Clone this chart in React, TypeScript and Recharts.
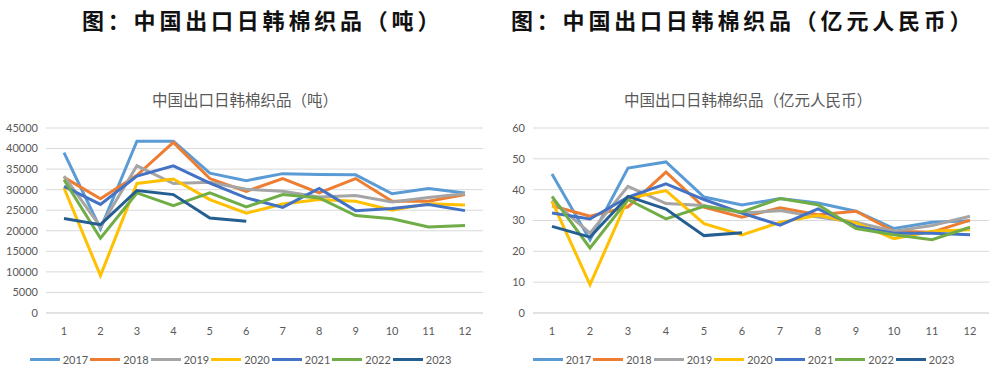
import React from 'react';
import { LineChart, Line, XAxis, YAxis, CartesianGrid, Legend } from 'recharts';

const months = ['1', '2', '3', '4', '5', '6', '7', '8', '9', '10', '11', '12'];
const years = ['2017', '2018', '2019', '2020', '2021', '2022', '2023'];
const colors = ['#5B9BD5', '#ED7D31', '#A5A5A5', '#FFC000', '#4472C4', '#70AD47', '#255E91'];

// 吨
const tons2017 = [39000, 20500, 41800, 41800, 34000, 32200, 33900, 33700, 33600, 29000, 30300, 29200];
const tons2018 = [33000, 27800, 33500, 41500, 32700, 29600, 32700, 29200, 32700, 27200, 27200, 28800];
const tons2019 = [33300, 21000, 35800, 31500, 31800, 30100, 29600, 28200, 28600, 27000, 28100, 29000];
const tons2020 = [30400, 9100, 31500, 32600, 27600, 24300, 26500, 27600, 27200, 25000, 26600, 26300];
const tons2021 = [30800, 26400, 33300, 35800, 31600, 28000, 25700, 30300, 24900, 25400, 26400, 24900];
const tons2022 = [32400, 18200, 29200, 26100, 29200, 25800, 28800, 28000, 23700, 22900, 20900, 21300];
const tons2023 = [23000, 21500, 29800, 28800, 23100, 22300];

// 亿元人民币
const rmb2017 = [45.1, 23.7, 47.0, 49.0, 37.6, 35.0, 37.1, 35.7, 33.0, 27.4, 29.4, 29.9];
const rmb2018 = [34.8, 31.4, 34.4, 45.7, 34.3, 31.1, 34.1, 31.9, 33.0, 26.5, 26.2, 30.1];
const rmb2019 = [36.5, 25.9, 41.1, 35.5, 34.9, 32.4, 33.2, 31.1, 29.4, 26.5, 28.4, 31.4];
const rmb2020 = [36.2, 9.2, 37.1, 39.7, 29.0, 25.3, 29.4, 31.7, 29.2, 24.1, 26.5, 27.0];
const rmb2021 = [32.4, 30.5, 37.6, 41.9, 36.8, 32.4, 28.5, 33.8, 28.1, 25.9, 25.9, 25.4];
const rmb2022 = [37.8, 21.1, 36.8, 30.5, 34.6, 32.8, 37.1, 35.1, 27.4, 25.4, 23.8, 27.8];
const rmb2023 = [28.1, 24.6, 37.8, 33.7, 25.1, 26.0];

const tonTicks = [0, 5000, 10000, 15000, 20000, 25000, 30000, 35000, 40000, 45000];
const rmbTicks = [0, 10, 20, 30, 40, 50, 60];

const buildRows = (series: number[][]) =>
  months.map((m, i) => {
    const row: { [key: string]: string | number | undefined } = { month: m };
    years.forEach((y, k) => {
      row[y] = series[k][i];
    });
    return row;
  });

const tonRows = buildRows([tons2017, tons2018, tons2019, tons2020, tons2021, tons2022, tons2023]);
const rmbRows = buildRows([rmb2017, rmb2018, rmb2019, rmb2020, rmb2021, rmb2022, rmb2023]);

const tickStyle = { fill: '#595959', fontSize: 11, fontFamily: 'Lato, "Noto Sans", sans-serif' };

const LegendRow = () => (
  <div
    style={{
      display: 'flex',
      justifyContent: 'center',
      alignItems: 'center',
      height: 40,
      paddingTop: 12,
      boxSizing: 'border-box',
    }}
  >
    {years.map((y, k) => (
      <div key={y} style={{ display: 'flex', alignItems: 'center', marginRight: 2 }}>
        <span style={{ display: 'inline-block', width: 30, height: 3, background: colors[k], marginRight: 3 }} />
        <span style={{ color: '#595959', fontSize: 11, fontFamily: 'Lato, "Noto Sans", sans-serif' }}>{y}</span>
      </div>
    ))}
  </div>
);

type PanelProps = {
  rows: typeof tonRows;
  ticks: number[];
  title: string;
  width: number;
  yWidth: number;
  pad: number;
};

const Panel: React.FC<PanelProps> = ({ rows, ticks, title, width, yWidth, pad }) => (
  <div style={{ position: 'relative', width, height: 293 }}>
    <div
      style={{
        position: 'absolute',
        top: 8,
        left: 0,
        width,
        textAlign: 'center',
        fontSize: 15.5,
        color: '#595959',
        fontFamily: '"Noto Sans CJK SC", sans-serif',
      }}
    >
      {title}
    </div>
    <LineChart width={width} height={293} data={rows} margin={{ top: 48, right: 7, left: 0, bottom: 0 }}>
      <CartesianGrid vertical={false} stroke="#D9D9D9" />
      <XAxis
        dataKey="month"
        height={20}
        tickLine={false}
        axisLine={{ stroke: '#D9D9D9' }}
        tick={tickStyle}
        tickMargin={8}
        padding={{ left: pad, right: pad }}
        interval={0}
      />
      <YAxis
        width={yWidth}
        domain={[0, ticks[ticks.length - 1]]}
        ticks={ticks}
        tickLine={false}
        axisLine={false}
        tick={tickStyle}
        interval={0}
      />
      <Legend verticalAlign="bottom" height={40} content={() => <LegendRow />} />
      {years.map((y, k) => (
        <Line
          key={y}
          type="linear"
          dataKey={y}
          stroke={colors[k]}
          strokeWidth={3}
          dot={false}
          isAnimationActive={false}
        />
      ))}
    </LineChart>
  </div>
);

const headStyle: React.CSSProperties = {
  position: 'absolute',
  top: 3,
  fontSize: 22,
  fontWeight: 'bold',
  letterSpacing: 3.8,
  color: '#111',
  fontFamily: '"Noto Sans CJK SC", serif',
  whiteSpace: 'nowrap',
};

export default function App() {
  return (
    <div style={{ position: 'absolute', left: 0, top: 0, width: 996, height: 373, background: '#fff', overflow: 'hidden' }}>
      <div style={{ ...headStyle, left: 82 }}>图：中国出口日韩棉织品（吨）</div>
      <div style={{ ...headStyle, left: 511 }}>图：中国出口日韩棉织品（亿元人民币）</div>
      <div style={{ position: 'absolute', left: 0, top: 80 }}>
        <Panel rows={tonRows} ticks={tonTicks} title="中国出口日韩棉织品（吨）" width={490} yWidth={46} pad={18} />
      </div>
      <div style={{ position: 'absolute', left: 500, top: 80 }}>
        <Panel rows={rmbRows} ticks={rmbTicks} title="中国出口日韩棉织品（亿元人民币）" width={496} yWidth={33} pad={19} />
      </div>
    </div>
  );
}
